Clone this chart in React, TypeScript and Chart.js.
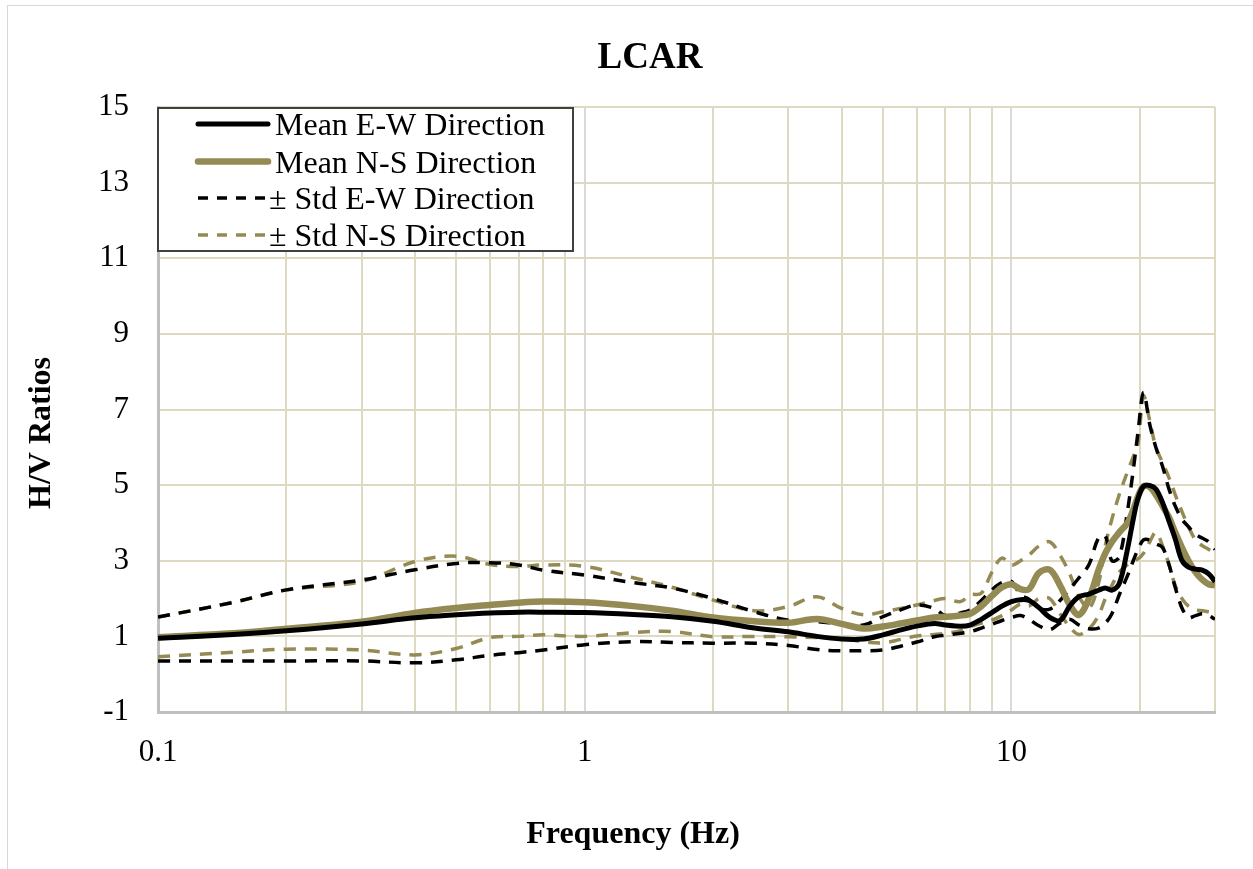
import React, { useEffect, useRef } from 'react';
import { Chart, registerables } from 'chart.js';

Chart.register(...registerables);

// ---------- data ----------
const freq = [
  0.1, 0.15, 0.2, 0.3, 0.4, 0.5, 0.6, 0.7, 0.8, 1.0,
  1.3, 1.6, 2, 2.5, 3, 3.5, 4, 4.5, 5, 5.5,
  6, 6.6, 7, 7.6, 8, 8.5, 9, 9.5, 10, 10.5,
  11, 11.6, 12.3, 13, 13.7, 14.4, 15.2, 16, 16.6, 17.2,
  17.9, 18.7, 19.3, 19.8, 20.4, 21.1, 21.8, 22.6, 23.4, 24.2,
  25.1, 26, 27, 28, 29, 30,
];

const meanEW = [
  0.95, 1.05, 1.15, 1.33, 1.49, 1.57, 1.62, 1.64, 1.64, 1.63,
  1.58, 1.52, 1.4, 1.22, 1.12, 1.0, 0.93, 0.93, 1.04, 1.17,
  1.27, 1.34, 1.3, 1.27, 1.3, 1.45, 1.63, 1.8, 1.92, 1.97,
  1.95, 1.76, 1.5, 1.42, 1.8, 2.05, 2.12, 2.22, 2.28, 2.22,
  2.4, 3.3, 4.1, 4.65, 4.97, 4.99, 4.9, 4.54, 4.05, 3.58,
  3.01, 2.83, 2.78, 2.75, 2.65, 2.45,
];

const meanNS = [
  0.98, 1.08, 1.2, 1.39, 1.62, 1.75, 1.83, 1.89, 1.92, 1.9,
  1.8, 1.68, 1.5, 1.4, 1.36, 1.46, 1.33, 1.21, 1.26, 1.34,
  1.42, 1.5, 1.52, 1.55, 1.6, 1.8, 2.07, 2.3, 2.38, 2.25,
  2.25, 2.68, 2.76, 2.35, 1.83, 1.57, 2.0, 2.75, 3.2, 3.5,
  3.75, 4.0, 4.35, 4.7, 4.97, 4.95, 4.75, 4.45, 4.15, 3.75,
  3.35, 3.0, 2.7, 2.5, 2.38, 2.35,
];

const stdEWUpper = [
  1.51, 1.9, 2.23, 2.49, 2.76, 2.93, 2.95, 2.89, 2.75, 2.62,
  2.42, 2.28, 2.0, 1.65, 1.43, 1.39, 1.33, 1.3, 1.52, 1.7,
  1.83, 1.74, 1.55, 1.62, 1.7, 1.95, 2.23, 2.42, 2.45, 2.1,
  1.98, 1.75, 1.72, 1.95, 2.25, 2.55, 2.9, 3.6, 3.65, 3.0,
  3.1, 4.3, 5.4, 6.4, 7.45, 6.6, 6.0, 5.5, 4.9, 4.45,
  4.1, 3.9, 3.7, 3.6, 3.5, 3.3,
];

const stdEWLower = [
  0.35, 0.35, 0.35, 0.35, 0.3, 0.38, 0.5, 0.57, 0.64, 0.78,
  0.86, 0.84, 0.82, 0.82, 0.76, 0.65, 0.62, 0.62, 0.64, 0.74,
  0.85, 0.99, 1.03, 1.08, 1.12, 1.22, 1.32, 1.42, 1.5, 1.55,
  1.45, 1.28, 1.18, 1.35, 1.45, 1.3, 1.2, 1.22, 1.35, 1.6,
  2.1, 2.6, 3.0, 3.3, 3.55, 3.55, 3.45, 3.35, 2.9, 2.3,
  1.75, 1.5, 1.55, 1.6, 1.55, 1.45,
];

const stdNSUpper = [
  1.51, 1.9, 2.23, 2.45, 2.98, 3.12, 2.9, 2.85, 2.89, 2.85,
  2.55, 2.3, 1.96, 1.68, 1.79, 2.05, 1.74, 1.57, 1.65, 1.74,
  1.83, 1.95, 2.0, 1.92, 2.1, 2.14, 2.7, 3.07, 2.88, 3.0,
  3.15, 3.39, 3.5, 3.15, 2.65, 2.05, 1.75, 2.4, 3.4, 4.1,
  4.75, 5.35, 5.75, 6.1, 7.35, 6.7, 6.0, 5.6, 5.2, 4.75,
  4.3, 3.9, 3.55, 3.4, 3.3, 3.2,
];

const stdNSLower = [
  0.46, 0.58, 0.66, 0.64, 0.51, 0.68, 0.97, 1.0, 1.04, 1.0,
  1.1, 1.13, 0.99, 1.0, 0.99, 0.97, 0.95, 0.86, 0.83, 0.92,
  1.01, 1.05, 1.08, 1.15, 1.26, 1.35, 1.43, 1.55, 1.7, 1.85,
  1.8, 2.0, 2.0, 1.6, 1.25, 1.05, 1.2, 1.55, 2.0, 2.35,
  2.7, 2.9, 3.0, 3.05, 3.2, 3.5, 3.75, 3.4, 2.9, 2.35,
  2.0, 1.8, 1.7, 1.68, 1.65, 1.62,
];

const xTickValues = [0.1, 0.2, 0.3, 0.4, 0.5, 0.6, 0.7, 0.8, 0.9, 1, 2, 3, 4, 5, 6, 7, 8, 9, 10, 20, 30];
const xLabeledTicks = [0.1, 1, 10];
const xLabelTexts = ['0.1', '1', '10'];
const yTickValues = [-1, 1, 3, 5, 7, 9, 11, 13, 15];

const chartTitle = 'LCAR';
const xAxisTitle = 'Frequency (Hz)';
const yAxisTitle = 'H/V Ratios';
const legendLabels = ['Mean E-W Direction', 'Mean N-S Direction', '± Std E-W Direction', '± Std N-S Direction'];

// ---------- styles ----------
const BLACK = '#000000';
const TAN = '#948a54';
const GRID_TAN = '#ddd9c3';
const GRID_GREY = '#d9d9d9';
const AXIS_GREY = '#bfbfbf';
const SERIF = '"Liberation Serif", "Times New Roman", serif';

const W = 1245;
const H = 863;

const toPoints = (ys: number[]) => freq.map((f, i) => ({ x: f, y: ys[i] }));

const isDecade = (v: number) => xLabeledTicks.some((d) => Math.abs(v - d) < 1e-9);

const textPlugin = {
  id: 'textPlugin',
  afterDraw(chart: any) {
    const ctx = chart.ctx as CanvasRenderingContext2D;
    ctx.save();
    // Title
    ctx.fillStyle = '#000';
    ctx.font = `bold 37px ${SERIF}`;
    ctx.textAlign = 'center';
    ctx.textBaseline = 'alphabetic';
    ctx.fillText(chartTitle, 642, 62);

    // X axis title
    ctx.font = `bold 32px ${SERIF}`;
    ctx.fillText(xAxisTitle, 625, 837);

    // Y axis title
    ctx.save();
    ctx.translate(42, 427);
    ctx.rotate(-Math.PI / 2);
    ctx.fillText(yAxisTitle, 0, 0);
    ctx.restore();

    // Legend box
    const bx = 150, by = 102, bw = 415, bh = 143;
    ctx.fillStyle = '#ffffff';
    ctx.fillRect(bx, by, bw, bh);
    ctx.strokeStyle = '#404040';
    ctx.lineWidth = 2;
    ctx.strokeRect(bx, by, bw, bh);

    const rowsY = [118, 155.5, 192, 229];
    const styles = [
      { color: BLACK, width: 5, dash: [] as number[], cap: 'round' as CanvasLineCap, tx: 267 },
      { color: TAN, width: 6.5, dash: [] as number[], cap: 'round' as CanvasLineCap, tx: 267 },
      { color: BLACK, width: 3.5, dash: [10, 9], cap: 'butt' as CanvasLineCap, tx: 261 },
      { color: TAN, width: 3.5, dash: [10, 9], cap: 'butt' as CanvasLineCap, tx: 261 },
    ];
    ctx.font = `32px ${SERIF}`;
    ctx.textAlign = 'left';
    ctx.textBaseline = 'alphabetic';
    legendLabels.forEach((label, i) => {
      const s = styles[i];
      const y = rowsY[i];
      ctx.beginPath();
      ctx.setLineDash(s.dash);
      ctx.lineCap = s.cap;
      ctx.strokeStyle = s.color;
      ctx.lineWidth = s.width;
      ctx.moveTo(190, y);
      ctx.lineTo(260, y);
      ctx.stroke();
      ctx.setLineDash([]);
      ctx.fillStyle = '#000';
      ctx.fillText(label, s.tx, y + 11);
    });
    ctx.restore();
  },
};

export default function App() {
  const canvasRef = useRef<HTMLCanvasElement | null>(null);

  useEffect(() => {
    if (!canvasRef.current) return;
    const dash = [12, 9];
    const common = { pointRadius: 0, tension: 0.35, fill: false };
    const chart = new Chart(canvasRef.current, {
      type: 'line',
      data: {
        datasets: [
          { label: legendLabels[0], data: toPoints(meanEW), borderColor: BLACK, borderWidth: 5, ...common },
          { label: legendLabels[1], data: toPoints(meanNS), borderColor: TAN, borderWidth: 6.5, ...common },
          { label: legendLabels[2], data: toPoints(stdEWUpper), borderColor: BLACK, borderWidth: 3.5, borderDash: dash, ...common },
          { label: legendLabels[2] + ' (lower)', data: toPoints(stdEWLower), borderColor: BLACK, borderWidth: 3.5, borderDash: dash, ...common },
          { label: legendLabels[3], data: toPoints(stdNSUpper), borderColor: TAN, borderWidth: 3.5, borderDash: dash, ...common },
          { label: legendLabels[3] + ' (lower)', data: toPoints(stdNSLower), borderColor: TAN, borderWidth: 3.5, borderDash: dash, ...common },
        ],
      },
      options: {
        responsive: false,
        animation: false,
        layout: { padding: { top: 101, right: 38, left: 0, bottom: 0 } },
        plugins: {
          legend: { display: false },
          title: { display: false },
          tooltip: { enabled: false },
        },
        scales: {
          x: {
            type: 'logarithmic',
            min: 0.1,
            max: 30,
            afterBuildTicks: (scale: any) => {
              scale.ticks = xTickValues.map((v) => ({ value: v, major: isDecade(v) }));
            },
            afterFit: (scale: any) => {
              scale.height = H - 706;
            },
            ticks: {
              autoSkip: false,
              maxRotation: 0,
              minRotation: 0,
              padding: 22,
              color: '#000',
              font: { family: SERIF, size: 31 },
              callback: (value: any) => {
                const idx = xLabeledTicks.findIndex((d) => Math.abs(Number(value) - d) < 1e-9);
                return idx >= 0 ? xLabelTexts[idx] : '';
              },
            },
            grid: {
              drawTicks: false,
              lineWidth: 2,
              color: (ctx: any) => (ctx.tick && isDecade(ctx.tick.value) ? GRID_GREY : GRID_TAN),
            },
            border: { display: true, color: AXIS_GREY, width: 3 },
          },
          y: {
            type: 'linear',
            min: -1,
            max: 15,
            afterBuildTicks: (scale: any) => {
              scale.ticks = yTickValues.map((v) => ({ value: v }));
            },
            afterFit: (scale: any) => {
              scale.width = 150;
            },
            ticks: {
              padding: 29,
              color: '#000',
              font: { family: SERIF, size: 31 },
              callback: (value: any) => String(value),
            },
            grid: {
              drawTicks: false,
              lineWidth: 2,
              color: GRID_TAN,
            },
            border: { display: true, color: AXIS_GREY, width: 3 },
          },
        },
      },
      plugins: [textPlugin],
    } as any);
    return () => chart.destroy();
  }, []);

  return (
    <div
      style={{
        position: 'absolute',
        left: 7,
        top: 5,
        width: 1246,
        height: 864,
        boxSizing: 'border-box',
        borderTop: '1px solid #d9d9d9',
        borderLeft: '1px solid #d9d9d9',
        background: '#ffffff',
      }}
    >
      <canvas ref={canvasRef} width={W} height={H} style={{ display: 'block', width: W, height: H }} />
    </div>
  );
}
